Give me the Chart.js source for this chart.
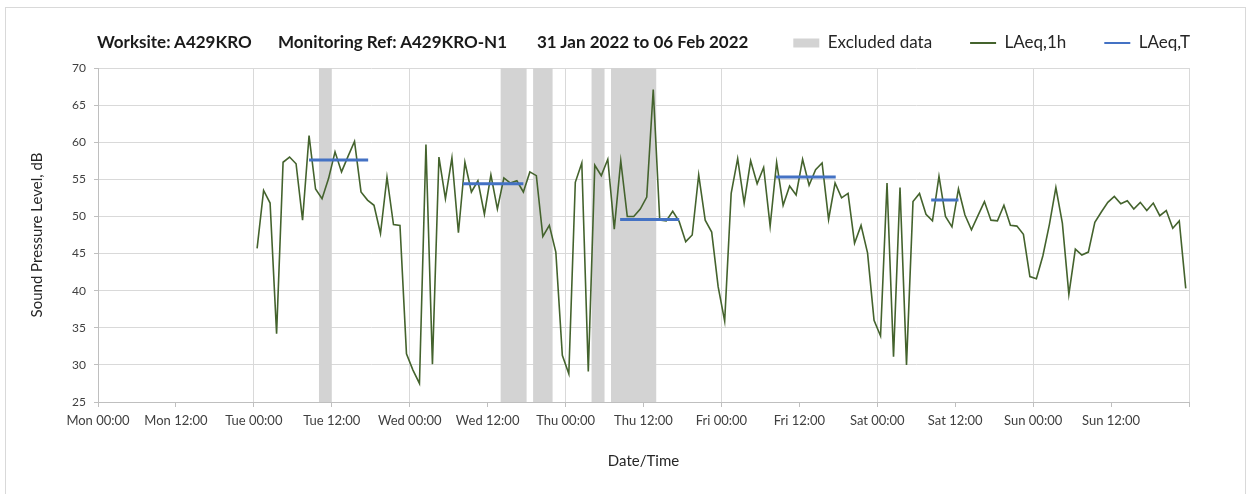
<!DOCTYPE html>
<html>
<head>
<meta charset="utf-8">
<script src="https://cdn.jsdelivr.net/npm/chart.js@4.4.1/dist/chart.umd.min.js"></script>
<style>
html,body{margin:0;padding:0;background:#fff;}
#wrap{position:relative;width:1250px;height:494px;overflow:hidden;background:#fff;}
#frame{position:absolute;left:5px;top:7px;width:1241px;height:520px;border:1px solid #d9d9d9;box-sizing:border-box;}
#c{position:absolute;left:0;top:0;}
#title{position:absolute;left:0;top:32px;font-family:Lato,"Open Sans",sans-serif;font-weight:bold;font-size:17px;line-height:20px;color:#1a1a1a;white-space:nowrap;}
#title span{position:absolute;top:0;}
</style>
</head>
<body>
<div id="wrap">
<div id="frame"></div>
<canvas id="c" width="1250" height="494"></canvas>
<div id="title"><span style="left:97px">Worksite: A429KRO</span><span style="left:278px">Monitoring Ref: A429KRO-N1</span><span style="left:537px">31 Jan 2022 to 06 Feb 2022</span></div>
</div>
<script>
// ---- data (hours from Mon 31 Jan 2022 00:00) ----
const xTickHours = [0,12,24,36,48,60,72,84,96,108,120,132,144,156,168];
const xTickLabels = ['Mon 00:00','Mon 12:00','Tue 00:00','Tue 12:00','Wed 00:00','Wed 12:00','Thu 00:00','Thu 12:00','Fri 00:00','Fri 12:00','Sat 00:00','Sat 12:00','Sun 00:00','Sun 12:00'];
const yTicks = [25,30,35,40,45,50,55,60,65,70];

// hourly LAeq,1h values, first one at Tue 00:30
const firstHour = 24.5;
const laeq1h = [
45.7,53.5,51.8,34.2,57.3,58.0,57.1,49.5,60.9,53.7,52.4,55.1,58.7,56.0,58.1,60.1,53.3,52.2,51.5,47.7,55.3,48.9,48.8,31.5,
29.3,27.5,59.7,30.1,58.0,52.4,57.9,47.8,57.3,53.3,54.8,50.3,55.6,51.0,55.2,54.5,54.8,53.3,56.0,55.5,47.3,48.8,45.2,31.3,
28.8,54.6,57.2,29.1,56.9,55.5,57.7,48.3,57.5,50.0,50.0,51.0,52.6,67.1,49.5,49.4,50.7,49.3,46.6,47.5,55.6,49.5,47.9,40.5,
35.9,53.1,57.8,51.8,57.5,54.4,56.6,48.7,57.3,51.5,54.1,52.9,57.7,54.2,56.3,57.2,49.6,54.5,52.5,53.1,46.4,48.8,45.1,36.0,
33.9,54.5,31.1,53.9,30.0,52.0,53.1,50.3,49.4,55.4,50.0,48.6,53.7,50.2,48.2,50.1,52.0,49.5,49.4,51.5,48.8,48.7,47.6,41.9,
41.6,44.7,48.9,53.9,49.1,39.5,45.6,44.8,45.2,49.2,50.6,51.9,52.7,51.7,52.1,51.0,51.9,50.8,51.8,50.1,50.8,48.4,49.4,40.3
];

// LAeq,T period values
const laeqTStart = [32.5, 56.2, 80.4, 104.4, 128.3];
const laeqTEnd   = [41.6, 65.5, 89.5, 113.6, 132.5];
const laeqTValue = [57.6, 54.4, 49.6, 55.3, 52.2];

// excluded data periods
const excludedStart = [34, 62, 67, 76, 79];
const excludedEnd   = [36, 66, 70, 78, 86];

const yMin = 25, yMax = 70;

// ---- build library data ----
const laeq1hPoints = laeq1h.map((v, i) => ({x: firstHour + i, y: v}));
const laeqTPoints = [];
laeqTValue.forEach((v, i) => {
  laeqTPoints.push({x: laeqTStart[i], y: v}, {x: laeqTEnd[i], y: v}, {x: laeqTEnd[i], y: null});
});
const excludedPoints = [];
excludedStart.forEach((s, i) => {
  const e = excludedEnd[i];
  excludedPoints.push({x: s, y: yMin}, {x: s, y: yMax}, {x: e, y: yMax}, {x: e, y: yMin});
});

const FONT = 'Lato';
const legendFontSize = 17;

const legendShift = {
  id: 'legendShift',
  afterLayout(chart) {
    const lg = chart.legend;
    if (!lg) return;
    const p = lg.options.labels.padding;
    const dy = 43 - (lg.top + p + legendFontSize / 2);
    const dx = 1190 - (lg.right - p);
    lg.top += dy; lg.bottom += dy;
    lg.left += dx; lg.right += dx;
  }
};

new Chart(document.getElementById('c'), {
  type: 'line',
  data: {
    datasets: [
      {
        label: 'Excluded data',
        data: excludedPoints,
        backgroundColor: '#d3d3d3',
        borderColor: 'rgba(0,0,0,0)',
        borderWidth: 0,
        fill: 'start',
        pointRadius: 0,
        pointStyle: 'rect',
        tension: 0,
        order: 3
      },
      {
        label: 'LAeq,1h',
        data: laeq1hPoints,
        borderColor: '#44632d',
        backgroundColor: '#44632d',
        borderWidth: 1.6,
        pointRadius: 0,
        pointStyle: 'line',
        fill: false,
        tension: 0,
        order: 2
      },
      {
        label: 'LAeq,T',
        data: laeqTPoints,
        borderColor: '#4472c4',
        backgroundColor: '#4472c4',
        borderWidth: 3,
        pointRadius: 0,
        pointStyle: 'line',
        fill: false,
        spanGaps: false,
        tension: 0,
        order: 1
      }
    ]
  },
  options: {
    responsive: false,
    animation: false,
    events: [],
    layout: {padding: {left: 10, right: 61, top: 3, bottom: 10}},
    plugins: {
      tooltip: {enabled: false},
      title: {display: false},
      legend: {
        display: true,
        position: 'top',
        align: 'end',
        labels: {
          usePointStyle: true,
          pointStyleWidth: 26,
          boxWidth: 26,
          boxHeight: 9,
          padding: 38,
          color: '#262626',
          font: {family: FONT, size: legendFontSize},
          sort: (a, b) => a.datasetIndex - b.datasetIndex,
          generateLabels(chart) {
            const items = Chart.defaults.plugins.legend.labels.generateLabels(chart);
            items.forEach(it => { if (it.pointStyle === 'line') it.lineWidth = 2; });
            return items;
          }
        }
      }
    },
    scales: {
      x: {
        type: 'linear',
        min: 0,
        max: 168,
        afterBuildTicks: s => { s.ticks = xTickHours.map(v => ({value: v})); },
        afterFit: s => { s.height = 82; },
        ticks: {
          autoSkip: false,
          maxRotation: 0,
          padding: 6,
          color: '#404040',
          font: {family: FONT, size: 13},
          callback: (v, i) => (xTickLabels[i] !== undefined ? xTickLabels[i] : '')
        },
        grid: {
          color: c => (c.tick && c.tick.value % 24 === 0) ? '#d9d9d9' : 'rgba(0,0,0,0)',
          tickColor: '#bfbfbf',
          tickLength: 5,
          lineWidth: 1
        },
        border: {color: '#bfbfbf'},
        title: {
          display: true,
          text: 'Date/Time',
          color: '#262626',
          font: {family: FONT, size: 15},
          padding: {top: 0, bottom: 13.4}
        }
      },
      y: {
        min: yMin,
        max: yMax,
        afterBuildTicks: s => { s.ticks = yTicks.map(v => ({value: v})); },
        afterFit: s => { s.width = 88; },
        ticks: {
          padding: 8,
          color: '#404040',
          font: {family: FONT, size: 12}
        },
        grid: {color: '#d9d9d9', tickColor: '#bfbfbf', tickLength: 4},
        border: {color: '#bfbfbf'},
        title: {
          display: true,
          text: 'Sound Pressure Level, dB',
          color: '#262626',
          font: {family: FONT, size: 15},
          padding: {top: 18, bottom: 0}
        }
      }
    }
  },
  plugins: [legendShift]
});
</script>
</body>
</html>
